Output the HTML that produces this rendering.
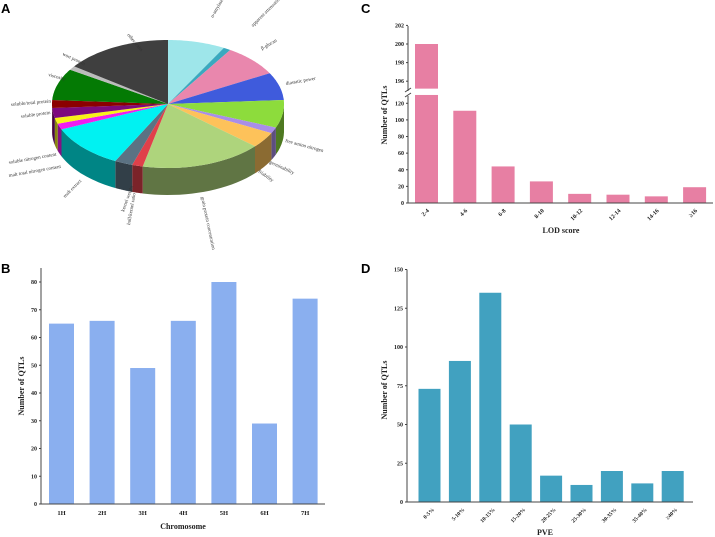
<!DOCTYPE html>
<html><head><meta charset="utf-8"><style>
html,body{margin:0;padding:0;background:#fff}
svg{display:block}
.t{font-family:"Liberation Serif",serif;font-weight:bold;fill:#222}
.lab{font-family:"Liberation Sans",sans-serif;font-weight:bold;font-size:13px;fill:#000}
.pl{font-family:"Liberation Serif",serif;font-size:5px;fill:#333}
</style></head><body>
<svg id="fig" width="715" height="537" viewBox="0 0 715 537" xmlns="http://www.w3.org/2000/svg">
<text class="lab" x="1" y="13">A</text>
<text class="lab" x="1" y="273">B</text>
<text class="lab" x="361" y="13">C</text>
<text class="lab" x="361" y="273">D</text>
<g id="pie"></g>
<g id="chartB"></g>
<g id="chartC"></g>
<g id="chartD"></g>
</svg>
<script>
const NS="http://www.w3.org/2000/svg";
function mk(p,tag,a){const e=document.createElementNS(NS,tag);for(const k in a)e.setAttribute(k,a[k]);p.appendChild(e);return e;}

// ---- Pie data ----
const pieValues=[8,1,8,7,7,1.5,4,17,1.5,2.5,11,1.5,1.5,2.5,2,8,1,15];
const pieColors=["#9ee6ea","#3aa9bf","#e987ad","#3f5bdc","#8ddc3c","#a98ee8","#fdc25a","#aed47c","#e0404a","#5b7283","#00f2f2","#f01df0","#f7f21a","#7d0a7d","#8b0000","#047a04","#bcbcbc","#3f3f3f"];
const pieLabels=[["other traits",127,35,50],["α-amylase activity",213,18,-60],["apparent attenuation limit",253,27,-45],["β-glucan",262,50,-30],["diastatic power",286,85,-10],["free amino nitrogen",285,142,15],["germinability",269,163,25],["friability",258,172,35],["grain protein concentration",201,197,78],["kernel weight",124,212,-70],["hull/kernel ratio",130,225,-80],["malt extract",65,198,-45],["malt total nitrogen content",9,177,-10],["soluble nitrogen content",9,164,-10],["soluble protein",21,118,-8],["soluble/total protein",11,106,-5],["viscosity",48,76,15],["wort protein",62,55,25]];
const pie=document.getElementById('pie');
const cx=168,cy=104,rx=116,ry=64,dep=27;
function pt(a,dy){return [cx+rx*Math.sin(a),cy-ry*Math.cos(a)+(dy||0)];}
function shade(hex,f){const n=parseInt(hex.slice(1),16);let r=(n>>16)&255,g=(n>>8)&255,b=n&255;return `rgb(${Math.round(r*f)},${Math.round(g*f)},${Math.round(b*f)})`;}
const tot=pieValues.reduce((a,b)=>a+b,0);
let angs=[],acc=0;
pieValues.forEach(v=>{const a0=acc/tot*2*Math.PI;acc+=v;angs.push([a0,acc/tot*2*Math.PI]);});
angs.forEach(([a0,a1],i)=>{
  const s=Math.max(a0,Math.PI/2),e=Math.min(a1,3*Math.PI/2);
  if(e<=s)return;
  let d="";const N=20;
  for(let k=0;k<=N;k++){const p=pt(s+(e-s)*k/N);d+=(k?"L":"M")+p[0].toFixed(1)+","+p[1].toFixed(1);}
  for(let k=N;k>=0;k--){const p=pt(s+(e-s)*k/N,dep);d+="L"+p[0].toFixed(1)+","+p[1].toFixed(1);}
  const el=mk(pie,'path',{d:d+"Z",fill:shade(pieColors[i],0.55)});
  
  
});
angs.forEach(([a0,a1],i)=>{
  let d="M"+cx+","+cy;const N=30;
  for(let k=0;k<=N;k++){const p=pt(a0+(a1-a0)*k/N);d+="L"+p[0].toFixed(1)+","+p[1].toFixed(1);}
  const el=mk(pie,'path',{d:d+"Z",fill:pieColors[i]});
  
  
});
pieLabels.forEach(l=>{
  const t=mk(pie,'text',{class:'pl',x:l[1],y:l[2],transform:`rotate(${l[3]} ${l[1]} ${l[2]})`});
  t.textContent=l[0];
  
  
});

function axisText(g,x,y,txt,size,anchor,rot,name){
  const t=mk(g,'text',{class:'t',x:x,y:y,'font-size':size,'text-anchor':anchor||'middle'});
  if(rot)t.setAttribute('transform',`rotate(${rot} ${x} ${y})`);
  t.textContent=txt;
  
  
  return t;
}

// ---- Chart B ----
const bCats=["1H","2H","3H","4H","5H","6H","7H"];
const bVals=[65,66,49,66,80,29,74];
const bTicks=[0,10,20,30,40,50,60,70,80];
(function(){
  const g=document.getElementById('chartB');
  const x0=41,x1=325,y0=504,yTop=268;
  const ys=v=>y0-v*2.775;
  const step=40.6,bw=25,first=61.5;
  bVals.forEach((v,i)=>{
    const cxb=first+i*step;
    const r=mk(g,'rect',{x:cxb-bw/2,y:ys(v),width:bw,height:y0-ys(v),fill:'#8aafef'});
    
    
    axisText(g,cxb,515,bCats[i],6.5,'middle',0,'x-tick-label');
  });
  mk(g,'line',{x1:x0,y1:y0,x2:x1,y2:y0,stroke:'#444','stroke-width':1});
  mk(g,'line',{x1:x0,y1:yTop,x2:x0,y2:y0,stroke:'#444','stroke-width':1});
  bTicks.forEach(v=>{mk(g,'line',{x1:x0-2,y1:ys(v),x2:x0,y2:ys(v),stroke:'#444'});axisText(g,x0-4,ys(v)+2,String(v),6,'end',0,'y-tick-label');});
  axisText(g,183,529,"Chromosome",8,'middle',0,'x-axis-title');
  axisText(g,24,386,"Number of QTLs",8,'middle',-90,'y-axis-title');
})();

// ---- Chart C ----
const cCats=["2-4","4-6","6-8","8-10","10-12","12-14","14-16","≥16"];
const cVals=[200,111,44,26,11,10,8,19];
const cLowTicks=[0,20,40,60,80,100,120];
const cHighTicks=[196,198,200,202];
(function(){
  const g=document.getElementById('chartC');
  const x0=408,x1=713,y0=203;
  const ysL=v=>y0-v*0.831;
  const ysH=v=>44-(v-200)*9.3;
  const lowMax=130,hiMin=195.2;
  const step=38.3,bw=23,first=426.5;
  cVals.forEach((v,i)=>{
    const cxb=first+i*step;
    if(v>lowMax){
      const r1=mk(g,'rect',{x:cxb-bw/2,y:ysL(lowMax),width:bw,height:y0-ysL(lowMax),fill:'#e77fa3'});
      
      
      const r2=mk(g,'rect',{x:cxb-bw/2,y:ysH(v),width:bw,height:ysH(hiMin)-ysH(v),fill:'#e77fa3'});
      
      
    } else {
      const r=mk(g,'rect',{x:cxb-bw/2,y:ysL(v),width:bw,height:y0-ysL(v),fill:'#e77fa3'});
      
      
    }
    axisText(g,cxb+3,211,cCats[i],6,'end',-45,'x-tick-label');
  });
  mk(g,'line',{x1:x0,y1:y0,x2:x1,y2:y0,stroke:'#444'});
  mk(g,'line',{x1:x0,y1:26,x2:x0,y2:91,stroke:'#444'});
  mk(g,'line',{x1:x0,y1:96,x2:x0,y2:y0,stroke:'#444'});
  mk(g,'line',{x1:x0-3,y1:92,x2:x0+3,y2:88,stroke:'#444'});
  mk(g,'line',{x1:x0-3,y1:97,x2:x0+3,y2:93,stroke:'#444'});
  cLowTicks.forEach(v=>{mk(g,'line',{x1:x0-2,y1:ysL(v),x2:x0,y2:ysL(v),stroke:'#444'});axisText(g,x0-4,ysL(v)+2,String(v),6,'end',0,'y-tick-label');});
  cHighTicks.forEach(v=>{mk(g,'line',{x1:x0-2,y1:ysH(v),x2:x0,y2:ysH(v),stroke:'#444'});axisText(g,x0-4,ysH(v)+2,String(v),6,'end',0,'y-tick-label');});
  axisText(g,561,233,"LOD score",8,'middle',0,'x-axis-title');
  axisText(g,387,115,"Number of QTLs",8,'middle',-90,'y-axis-title');
})();

// ---- Chart D ----
const dCats=["0-5%","5-10%","10-15%","15-20%","20-25%","25-30%","30-35%","35-40%","≥40%"];
const dVals=[73,91,135,50,17,11,20,12,20];
const dTicks=[0,25,50,75,100,125,150];
(function(){
  const g=document.getElementById('chartD');
  const x0=407,x1=693,y0=502;
  const ys=v=>y0-v*1.55;
  const step=30.4,bw=22,first=429.5;
  dVals.forEach((v,i)=>{
    const cxb=first+i*step;
    const r=mk(g,'rect',{x:cxb-bw/2,y:ys(v),width:bw,height:y0-ys(v),fill:'#41a1c0'});
    
    
    axisText(g,cxb+5,510,dCats[i],5.5,'end',-45,'x-tick-label');
  });
  mk(g,'line',{x1:x0,y1:y0,x2:x1,y2:y0,stroke:'#444'});
  mk(g,'line',{x1:x0,y1:ys(150),x2:x0,y2:y0,stroke:'#444'});
  dTicks.forEach(v=>{mk(g,'line',{x1:x0-2,y1:ys(v),x2:x0,y2:ys(v),stroke:'#444'});axisText(g,x0-4,ys(v)+2,String(v),6,'end',0,'y-tick-label');});
  axisText(g,545,535,"PVE",8,'middle',0,'x-axis-title');
  axisText(g,387,390,"Number of QTLs",8,'middle',-90,'y-axis-title');
})();
</script>
</body></html>
